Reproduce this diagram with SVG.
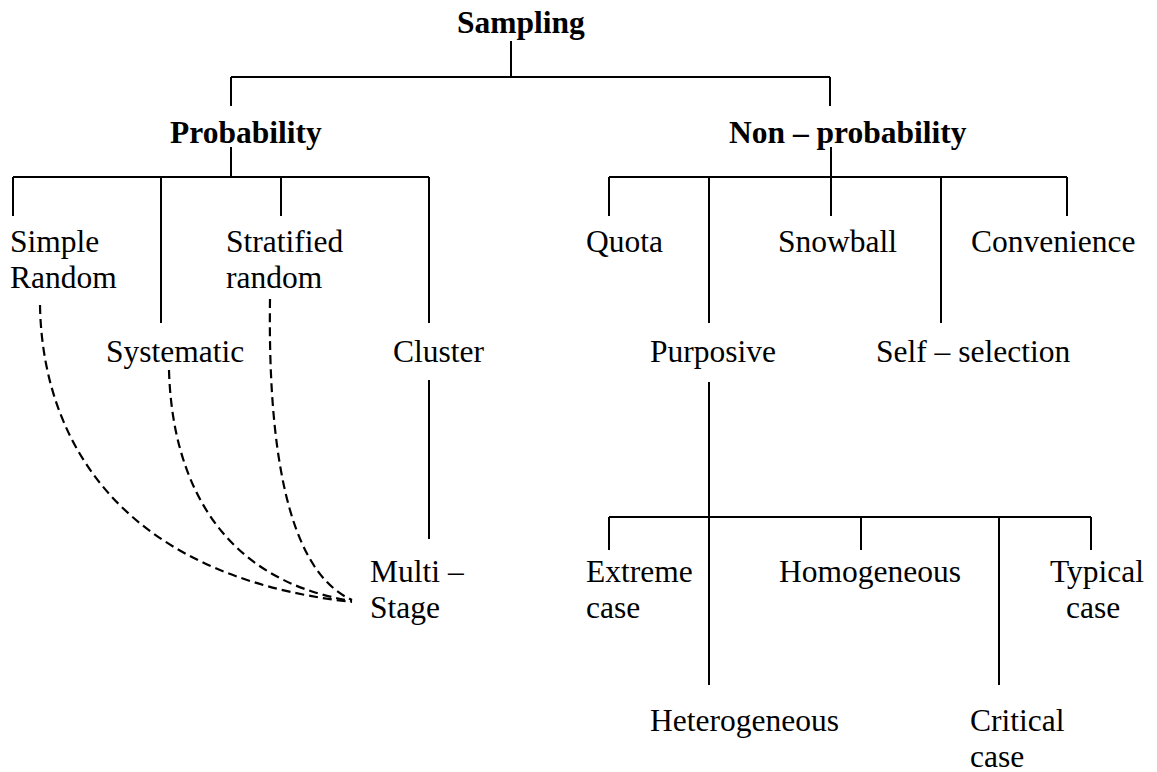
<svg xmlns="http://www.w3.org/2000/svg" width="1157" height="772" viewBox="0 0 1157 772">
<style>
text{font-family:"Liberation Serif","Times New Roman",serif;font-size:31.5px;fill:#000}
.b{font-weight:bold}
.ln{stroke:#000;stroke-width:2;fill:none}
.ds{stroke:#000;stroke-width:2.2;fill:none;stroke-dasharray:9 5}
</style>
<rect width="1157" height="772" fill="#fff"/>
<g id="connectors">
<path class="ln" d="M511,41V77M231,77H830M231,77V106M830,77V106"/>
<path class="ln" d="M231,147V177M13,177H429M13,177V216M161,177V323M281,177V216M429,177V323"/>
<path class="ln" d="M429,380V539"/>
<path class="ln" d="M831,147V216M609,177H1067M609,177V216M709,177V323M941,177V323M1067,177V216"/>
<path class="ln" d="M709,382V685M609,517H1091M609,517V550M861,517V550M999,517V685M1091,517V550"/>
<path class="ds" d="M40,305C42,430 110,575 352,602"/>
<path class="ds" d="M169,370C172,480 220,580 352,601"/>
<path class="ds" d="M270,299C268,440 285,570 352,600"/>
</g>
<g id="n-sampling"><text class="b" x="457" y="33">Sampling</text></g>
<g id="n-probability"><text class="b" x="170" y="143">Probability</text></g>
<g id="n-nonprobability"><text class="b" x="729" y="143">Non – probability</text></g>
<g id="n-simple"><text x="10" y="252">Simple</text><text x="10" y="288">Random</text></g>
<g id="n-stratified"><text x="226" y="252">Stratified</text><text x="226" y="288">random</text></g>
<g id="n-systematic"><text x="106" y="362">Systematic</text></g>
<g id="n-cluster"><text x="393" y="362">Cluster</text></g>
<g id="n-multistage"><text x="370" y="582">Multi –</text><text x="370" y="618">Stage</text></g>
<g id="n-quota"><text x="586" y="252">Quota</text></g>
<g id="n-snowball"><text x="778" y="252">Snowball</text></g>
<g id="n-convenience"><text x="971" y="252">Convenience</text></g>
<g id="n-purposive"><text x="650" y="362">Purposive</text></g>
<g id="n-selfselection"><text x="876" y="362">Self – selection</text></g>
<g id="n-extreme"><text x="586" y="582">Extreme</text><text x="586" y="618">case</text></g>
<g id="n-homogeneous"><text x="779" y="582">Homogeneous</text></g>
<g id="n-typical"><text x="1050" y="582">Typical</text><text x="1066" y="618">case</text></g>
<g id="n-heterogeneous"><text x="650" y="731">Heterogeneous</text></g>
<g id="n-critical"><text x="970" y="731">Critical</text><text x="970" y="767">case</text></g>
</svg>
